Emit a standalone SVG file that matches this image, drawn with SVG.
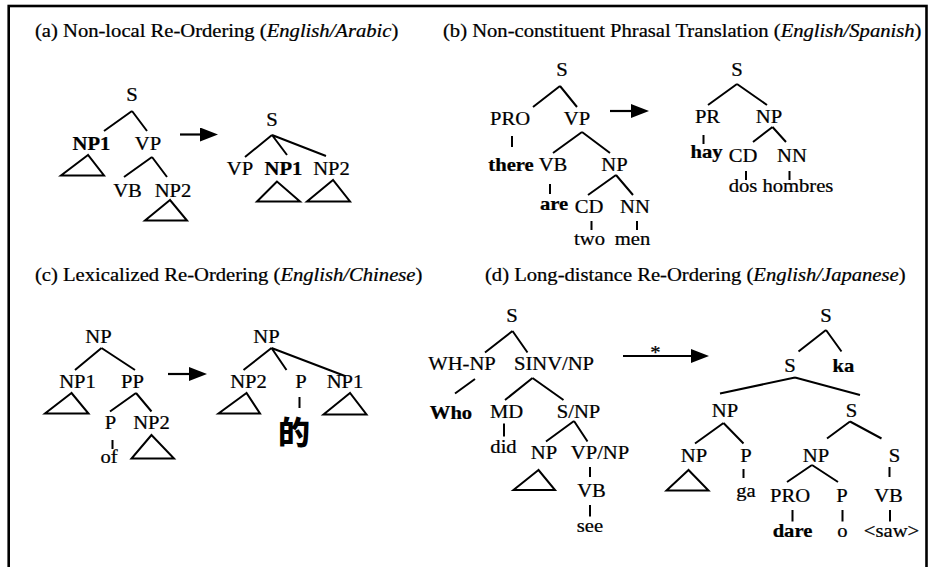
<svg xmlns="http://www.w3.org/2000/svg" width="929" height="567" viewBox="0 0 929 567">
<style>
.t{font-family:"Liberation Serif","Times New Roman",serif;font-size:19px;text-anchor:middle;fill:#000;stroke:#000;stroke-width:0.25}
.s{text-anchor:start}
.b{font-weight:bold}
.i{font-style:italic}
.cjk{font-family:"Noto Sans CJK SC",sans-serif;font-size:32px;font-weight:900;text-anchor:middle;fill:#000}
.e{stroke:#000;stroke-width:2;fill:none}
.tri{stroke:#000;stroke-width:2;fill:none;stroke-linejoin:miter}
.ar{stroke:#000;stroke-width:2.2;fill:none}
</style>
<defs>
<marker id="ah" markerUnits="userSpaceOnUse" markerWidth="18" markerHeight="14" viewBox="0 0 18 14" refX="0" refY="7" orient="auto">
<path d="M0,0 L18,7 L0,14 Z" fill="#000"/>
</marker>
</defs>
<rect x="8.7" y="6" width="917.8" height="575" fill="none" stroke="#000" stroke-width="2.6"/>

<g id="titles">
<text class="t s" transform="translate(35,37) scale(1.085,1)">(a) Non-local Re-Ordering (<tspan class="i">English/Arabic</tspan>)</text>
<text class="t s" transform="translate(443,37) scale(1.085,1)">(b) Non-constituent Phrasal Translation (<tspan class="i">English/Spanish</tspan>)</text>
<text class="t s" transform="translate(35,281) scale(1.085,1)">(c) Lexicalized Re-Ordering (<tspan class="i">English/Chinese</tspan>)</text>
<text class="t s" transform="translate(485,281) scale(1.085,1)">(d) Long-distance Re-Ordering (<tspan class="i">English/Japanese</tspan>)</text>
</g>

<g id="connectors">
<!-- (a) -->
<path class="e" d="M132,111 L104,131 M132,111 L147,131 M152,157 L124,177 M152,157 L167,177"/>
<path class="e" d="M272,135 L245,157 M272,135 L287,155 M272,135 L326,156"/>
<line class="ar" x1="180" y1="134.5" x2="200" y2="134.5" marker-end="url(#ah)"/>
<!-- (b) -->
<path class="e" d="M560,86 L533,107 M560,86 L577,107 M512,136 L512,147 M582,132 L553,153 M582,132 L610,153 M550,184 L550,194 M616,175 L588,195 M616,175 L633,195 M591.5,221 L591.5,230 M637,221 L637,230"/>
<path class="e" d="M737,84 L708,105 M737,84 L767,105 M703.5,135 L703.5,144 M772.5,127 L753,142 M772.5,127 L786,142 M746,171 L746,180 M789.5,171 L789.5,180"/>
<line class="ar" x1="610" y1="111" x2="631" y2="111" marker-end="url(#ah)"/>
<!-- (c) -->
<path class="e" d="M101.5,348 L75,370 M101.5,348 L135,370 M136,393 L110,411.5 M136,393 L151.5,411.5 M112.5,440 L112.5,449"/>
<path class="e" d="M271.5,348 L243.5,370 M271.5,348 L286.5,370 M271.5,348 L345,376 M299.5,397 L299.5,408"/>
<line class="ar" x1="168" y1="374" x2="189" y2="374" marker-end="url(#ah)"/>
<!-- (d) -->
<path class="e" d="M512.5,331 L485,352.5 M512.5,331 L527.5,352.5 M475,379 L455,393.5 M532.5,378 L505,400 M532.5,378 L563.5,400 M504,423.5 L504,436.5 M574,421 L546,441.5 M574,421 L587.5,441.5 M590,467 L590,477 M590,505 L590,516.5"/>
<path class="e" d="M826,330 L798.5,351.5 M826,330 L841.5,351.5 M795,377.5 L720,393.5 M795,377.5 L860,395 M723.5,423 L695,443.5 M723.5,423 L743.5,443.5 M850,421.5 L827,438.5 M850,421.5 L881.5,438.5 M743.5,469 L743.5,478 M812,465 L787,482 M812,465 L838,482 M889.5,467 L889.5,477 M792.5,510 L792.5,521.5 M842.5,510 L842.5,521.5 M890,510 L890,521.5"/>
<line class="ar" x1="623" y1="356" x2="691" y2="356" marker-end="url(#ah)"/>
<text class="t" transform="translate(655.5,359) scale(1.085,1)">*</text>
</g>

<!-- (a) left tree -->
<g id="a-S"><text class="t" transform="translate(132,101) scale(1.085,1)">S</text></g>
<g id="a-NP1"><text class="t b" transform="translate(91.5,150) scale(1.085,1)">NP1</text><polygon class="tri" points="88,155 61,175.5 104,175.5"/></g>
<g id="a-VP"><text class="t" transform="translate(148,150) scale(1.085,1)">VP</text></g>
<g id="a-VB"><text class="t" transform="translate(127.5,197) scale(1.085,1)">VB</text></g>
<g id="a-NP2"><text class="t" transform="translate(173,197) scale(1.085,1)">NP2</text><polygon class="tri" points="170,200 145,220.5 187,220.5"/></g>
<!-- (a) right tree -->
<g id="a2-S"><text class="t" transform="translate(272,126) scale(1.085,1)">S</text></g>
<g id="a2-VP"><text class="t" transform="translate(240,175) scale(1.085,1)">VP</text></g>
<g id="a2-NP1"><text class="t b" transform="translate(283.5,175) scale(1.085,1)">NP1</text><polygon class="tri" points="277,181.5 257,201.5 300,201.5"/></g>
<g id="a2-NP2"><text class="t" transform="translate(331.5,175) scale(1.085,1)">NP2</text><polygon class="tri" points="333,180 307,201.5 350,201.5"/></g>

<!-- (b) left tree -->
<g id="b-S"><text class="t" transform="translate(562,76) scale(1.085,1)">S</text></g>
<g id="b-PRO"><text class="t" transform="translate(510,125) scale(1.085,1)">PRO</text></g>
<g id="b-VP"><text class="t" transform="translate(577,125) scale(1.085,1)">VP</text></g>
<g id="b-there"><text class="t b" transform="translate(511,171) scale(1.085,1)">there</text></g>
<g id="b-VB"><text class="t" transform="translate(553,171) scale(1.085,1)">VB</text></g>
<g id="b-NP"><text class="t" transform="translate(614.5,171) scale(1.085,1)">NP</text></g>
<g id="b-are"><text class="t b" transform="translate(554,210) scale(1.085,1)">are</text></g>
<g id="b-CD"><text class="t" transform="translate(589,213) scale(1.085,1)">CD</text></g>
<g id="b-NN"><text class="t" transform="translate(635,213) scale(1.085,1)">NN</text></g>
<g id="b-two"><text class="t" transform="translate(589.5,245) scale(1.085,1)">two</text></g>
<g id="b-men"><text class="t" transform="translate(632.5,245) scale(1.085,1)">men</text></g>
<!-- (b) right tree -->
<g id="b2-S"><text class="t" transform="translate(737,76) scale(1.085,1)">S</text></g>
<g id="b2-PR"><text class="t" transform="translate(707.5,123) scale(1.085,1)">PR</text></g>
<g id="b2-NP"><text class="t" transform="translate(769,123) scale(1.085,1)">NP</text></g>
<g id="b2-hay"><text class="t b" transform="translate(706.5,158) scale(1.085,1)">hay</text></g>
<g id="b2-CD"><text class="t" transform="translate(743,162) scale(1.085,1)">CD</text></g>
<g id="b2-NN"><text class="t" transform="translate(792,162) scale(1.085,1)">NN</text></g>
<g id="b2-words"><text class="t" transform="translate(781,192) scale(1.085,1)">dos hombres</text></g>

<!-- (c) left tree -->
<g id="c-NP"><text class="t" transform="translate(98.5,343) scale(1.085,1)">NP</text></g>
<g id="c-NP1"><text class="t" transform="translate(77.5,388) scale(1.085,1)">NP1</text><polygon class="tri" points="71.5,393 45,413.5 88.5,413.5"/></g>
<g id="c-PP"><text class="t" transform="translate(132.5,388) scale(1.085,1)">PP</text></g>
<g id="c-P"><text class="t" transform="translate(110.5,428.5) scale(1.085,1)">P</text></g>
<g id="c-NP2"><text class="t" transform="translate(151.5,428.5) scale(1.085,1)">NP2</text><polygon class="tri" points="151.5,435 131.5,458.5 174,458.5"/></g>
<g id="c-of"><text class="t" transform="translate(109,463) scale(1.085,1)">of</text></g>
<!-- (c) right tree -->
<g id="c2-NP"><text class="t" transform="translate(266.5,343) scale(1.085,1)">NP</text></g>
<g id="c2-NP2"><text class="t" transform="translate(248.5,388) scale(1.085,1)">NP2</text><polygon class="tri" points="246.5,393 218.5,413.5 260,413.5"/></g>
<g id="c2-P"><text class="t" transform="translate(301,388) scale(1.085,1)">P</text></g>
<g id="c2-de"><text class="cjk" x="294" y="444">的</text></g>
<g id="c2-NP1"><text class="t" transform="translate(345,388) scale(1.085,1)">NP1</text><polygon class="tri" points="350,393 323.5,414.5 366.5,414.5"/></g>

<!-- (d) left tree -->
<g id="d-S"><text class="t" transform="translate(512,322) scale(1.085,1)">S</text></g>
<g id="d-WHNP"><text class="t" transform="translate(462,370) scale(1.085,1)">WH-NP</text></g>
<g id="d-SINV"><text class="t" transform="translate(554,370) scale(1.085,1)">SINV/NP</text></g>
<g id="d-Who"><text class="t b" transform="translate(451,418.5) scale(1.085,1)">Who</text></g>
<g id="d-MD"><text class="t" transform="translate(506.5,418) scale(1.085,1)">MD</text></g>
<g id="d-SNP"><text class="t" transform="translate(578.5,418) scale(1.085,1)">S/NP</text></g>
<g id="d-did"><text class="t" transform="translate(503.5,453) scale(1.085,1)">did</text></g>
<g id="d-NP"><text class="t" transform="translate(544,458.5) scale(1.085,1)">NP</text><polygon class="tri" points="538.5,470 513.5,490 555,490"/></g>
<g id="d-VPNP"><text class="t" transform="translate(600,458.5) scale(1.085,1)">VP/NP</text></g>
<g id="d-VB"><text class="t" transform="translate(591.5,497) scale(1.085,1)">VB</text></g>
<g id="d-see"><text class="t" transform="translate(590,532) scale(1.085,1)">see</text></g>
<!-- (d) right tree -->
<g id="d2-S"><text class="t" transform="translate(826,322) scale(1.085,1)">S</text></g>
<g id="d2-S1"><text class="t" transform="translate(790,372) scale(1.085,1)">S</text></g>
<g id="d2-ka"><text class="t b" transform="translate(843.5,372) scale(1.085,1)">ka</text></g>
<g id="d2-NP"><text class="t" transform="translate(725,417) scale(1.085,1)">NP</text></g>
<g id="d2-S2"><text class="t" transform="translate(851.5,417) scale(1.085,1)">S</text></g>
<g id="d2-NPa"><text class="t" transform="translate(694,462) scale(1.085,1)">NP</text><polygon class="tri" points="688.5,470 666.5,490.5 708.5,490.5"/></g>
<g id="d2-P"><text class="t" transform="translate(746,462) scale(1.085,1)">P</text></g>
<g id="d2-ga"><text class="t" transform="translate(746,497) scale(1.085,1)">ga</text></g>
<g id="d2-NPb"><text class="t" transform="translate(816,462) scale(1.085,1)">NP</text></g>
<g id="d2-S3"><text class="t" transform="translate(894.5,462) scale(1.085,1)">S</text></g>
<g id="d2-PRO"><text class="t" transform="translate(790,502) scale(1.085,1)">PRO</text></g>
<g id="d2-P2"><text class="t" transform="translate(842,502) scale(1.085,1)">P</text></g>
<g id="d2-VB"><text class="t" transform="translate(888.5,502) scale(1.085,1)">VB</text></g>
<g id="d2-dare"><text class="t b" transform="translate(792.5,537) scale(1.085,1)">dare</text></g>
<g id="d2-o"><text class="t" transform="translate(842.5,537) scale(1.085,1)">o</text></g>
<g id="d2-saw"><text class="t" transform="translate(891.5,537) scale(1.085,1)">&lt;saw&gt;</text></g>
</svg>
